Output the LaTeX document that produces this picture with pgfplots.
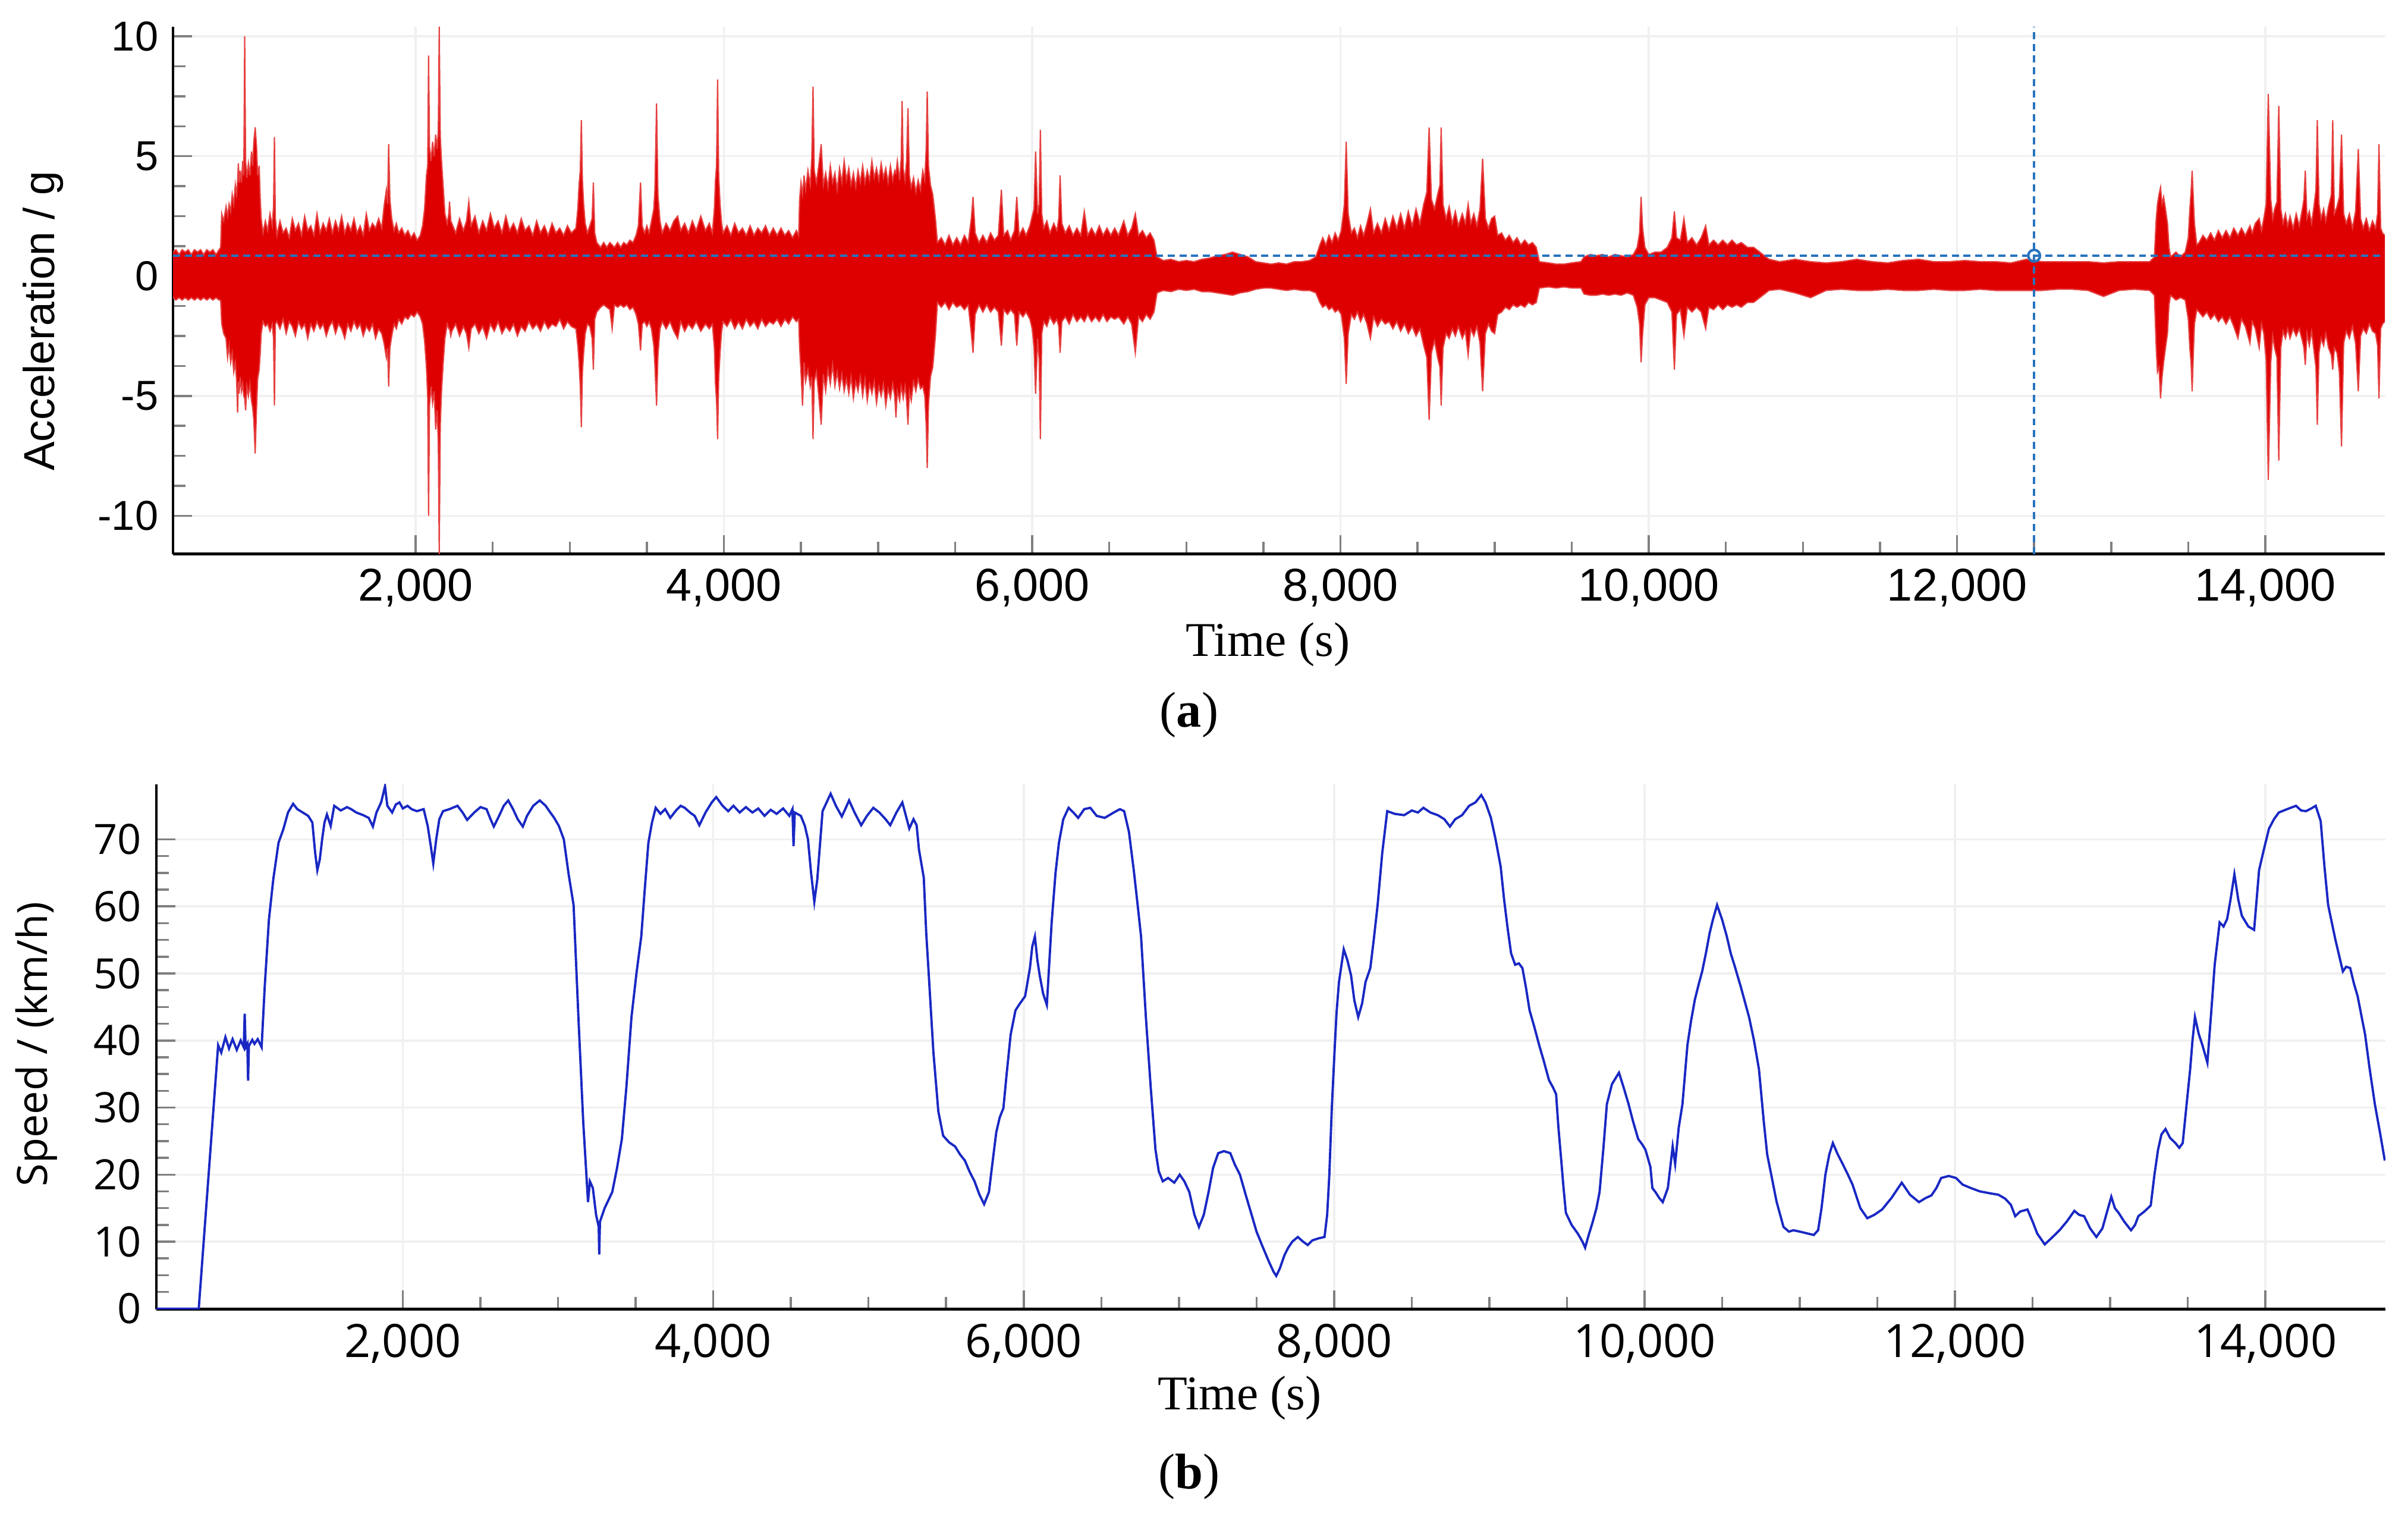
\documentclass[border=0pt]{standalone}
\usepackage{pgfplots}
\pgfplotsset{compat=1.18}
\usepackage{pgfplotstable}
\usepgfplotslibrary{fillbetween}
\usepackage{fontspec}
\setmainfont{Liberation Serif}
\setsansfont{Liberation Sans}
\newfontfamily\segoe{Open Sans}

\definecolor{accred}{RGB}{222,0,0}
\definecolor{spdblue}{RGB}{25,40,195}
\definecolor{cursor}{RGB}{40,115,190}

% acceleration envelope (upper / lower)
\pgfplotstableread{
t up lo
426 1.0 -0.9
445 1.1 -1.0
465 0.9 -0.9
485 1.1 -1.0
505 1.0 -0.9
525 1.1 -1.0
545 0.9 -0.9
565 1.1 -1.0
585 1.0 -0.9
605 1.1 -1.0
625 0.9 -0.9
645 1.1 -1.0
665 1.0 -0.9
685 1.1 -1.0
705 0.9 -0.9
725 1.1 -1.0
735 1.2 -1.0
742 2.6 -2.0
755 2.3 -2.4
770 2.9 -2.6
780 2.5 -3.4
790 3.0 -2.9
800 2.7 -3.6
810 3.4 -3.2
820 3.0 -4.0
830 3.8 -3.6
838 3.4 -4.3
845 4.0 -5.7
850 4.7 -4.4
855 3.9 -4.9
862 4.4 -4.2
870 3.9 -4.8
878 4.8 -4.5
885 4.2 -5.0
891 10.0 -5.1
897 4.8 -5.6
905 4.1 -4.6
915 4.7 -5.0
925 4.2 -4.5
935 5.2 -5.2
943 4.6 -5.5
950 5.6 -6.0
959 6.2 -7.4
968 5.4 -5.5
975 4.2 -4.3
985 4.6 -3.9
992 3.2 -3.2
998 2.4 -2.4
1010 1.8 -1.9
1025 2.3 -2.1
1040 1.9 -2.0
1055 2.6 -2.3
1070 2.1 -2.0
1078 2.9 -2.6
1084 5.8 -5.4
1090 2.4 -2.0
1100 1.7 -1.9
1120 2.3 -2.2
1140 1.8 -1.8
1160 2.0 -2.4
1180 1.6 -1.9
1200 2.4 -2.1
1220 1.9 -2.5
1240 2.2 -1.9
1260 1.7 -2.2
1280 2.5 -2.0
1300 1.9 -2.6
1320 2.1 -2.0
1340 1.7 -2.3
1360 2.6 -1.9
1380 1.8 -2.2
1400 2.2 -2.0
1420 1.9 -2.5
1440 2.4 -2.1
1460 1.8 -1.9
1480 2.3 -2.4
1500 1.9 -2.0
1520 2.5 -2.2
1540 1.8 -2.6
1560 2.2 -2.0
1580 1.9 -2.3
1600 2.4 -1.9
1620 1.8 -2.2
1640 2.1 -2.0
1660 1.7 -2.5
1680 2.6 -2.1
1700 1.9 -2.3
1720 2.2 -2.0
1740 2.0 -2.6
1760 2.4 -2.2
1780 2.0 -2.4
1795 2.9 -2.8
1810 3.6 -3.4
1818 3.0 -3.0
1825 5.5 -4.6
1833 3.2 -3.0
1845 2.4 -2.5
1860 1.9 -2.0
1875 2.2 -2.2
1890 1.8 -1.8
1910 2.0 -2.0
1930 1.7 -1.7
1950 1.9 -1.8
1970 1.6 -1.6
1990 1.8 -1.7
2010 1.5 -1.5
2030 1.7 -1.7
2045 2.1 -2.0
2058 2.8 -2.7
2070 4.2 -3.8
2078 4.6 -5.0
2084 9.2 -10.0
2090 5.4 -5.4
2100 4.8 -4.6
2110 5.6 -5.3
2120 5.0 -4.8
2130 5.9 -6.4
2140 5.3 -5.6
2147 6.1 -7.0
2153 10.4 -11.6
2160 5.8 -6.2
2168 4.8 -4.8
2178 3.8 -3.7
2190 2.6 -2.6
2205 2.2 -2.0
2215 2.6 -2.2
2220 3.1 -2.2
2228 2.3 -2.5
2235 2.2 -2.3
2260 1.8 -2.0
2285 2.4 -2.5
2310 1.9 -2.1
2330 2.3 -2.4
2345 3.1 -3.0
2360 2.1 -2.2
2385 2.5 -2.0
2410 1.8 -2.4
2435 2.3 -2.1
2460 1.9 -2.6
2485 2.6 -2.0
2510 2.0 -2.3
2535 2.3 -1.9
2560 1.8 -2.4
2585 2.5 -2.1
2610 1.9 -2.3
2635 2.2 -2.0
2660 1.8 -2.5
2685 2.4 -2.1
2710 1.9 -2.3
2735 2.1 -1.9
2760 1.7 -2.2
2785 2.3 -2.0
2810 1.8 -2.3
2835 2.1 -1.9
2860 1.7 -2.2
2885 2.2 -2.0
2910 1.8 -2.1
2935 2.0 -1.8
2960 1.7 -2.2
2985 2.1 -1.9
3010 1.8 -2.1
3040 2.0 -2.2
3052 2.8 -2.9
3060 3.8 -3.6
3068 4.4 -4.6
3075 6.5 -6.3
3082 4.0 -4.0
3090 3.0 -3.2
3100 2.2 -2.4
3115 1.8 -2.0
3130 2.1 -2.1
3145 2.4 -2.6
3153 3.9 -3.9
3162 1.8 -1.8
3175 1.4 -1.5
3200 1.2 -1.3
3220 1.4 -1.2
3240 1.2 -1.3
3260 1.4 -1.4
3275 1.3 -2.2
3290 1.2 -1.2
3310 1.4 -1.3
3330 1.2 -1.2
3350 1.4 -1.3
3370 1.3 -1.2
3390 1.5 -1.4
3410 1.4 -1.3
3430 1.7 -1.6
3445 2.1 -2.0
3459 3.9 -3.1
3470 2.1 -2.0
3485 1.8 -1.9
3500 2.1 -2.1
3515 1.8 -1.9
3530 2.3 -2.2
3545 2.8 -2.9
3552 3.6 -3.7
3563 7.2 -5.4
3572 3.4 -3.3
3585 2.3 -2.2
3600 1.8 -1.9
3625 2.2 -2.2
3650 1.9 -1.9
3675 2.3 -2.3
3700 2.5 -2.6
3720 1.9 -1.9
3745 2.2 -2.3
3770 1.8 -2.0
3795 2.3 -2.2
3820 1.9 -1.9
3850 2.5 -2.3
3880 1.9 -2.0
3905 2.2 -2.2
3925 1.8 -2.0
3938 2.8 -3.0
3945 4.0 -4.5
3952 4.6 -5.2
3959 8.2 -6.8
3966 4.2 -4.3
3975 3.0 -3.2
3985 2.2 -2.3
3995 1.8 -1.9
4020 2.1 -2.1
4045 1.7 -1.8
4070 2.2 -2.2
4095 1.8 -1.9
4120 2.0 -2.2
4145 1.7 -1.8
4170 2.1 -2.1
4195 1.7 -1.9
4220 2.0 -2.2
4245 1.8 -1.8
4270 2.1 -2.1
4295 1.7 -1.9
4320 2.0 -2.0
4345 1.7 -1.8
4370 2.0 -2.1
4395 1.7 -1.8
4420 1.9 -2.0
4445 1.6 -1.7
4470 1.9 -1.9
4485 1.7 -1.8
4491 3.2 -3.0
4500 3.9 -4.0
4510 3.4 -5.4
4520 4.2 -3.6
4530 3.6 -4.4
4545 4.4 -3.9
4560 3.8 -4.6
4570 4.9 -4.2
4578 7.9 -6.8
4586 4.4 -4.4
4600 3.9 -4.0
4615 4.6 -5.0
4631 5.5 -6.2
4645 3.8 -4.1
4660 4.3 -4.8
4675 3.7 -3.9
4690 4.6 -4.5
4705 3.9 -3.7
4720 4.3 -4.6
4735 3.6 -4.0
4750 4.5 -4.7
4765 3.9 -4.1
4780 4.8 -4.8
4795 4.0 -4.3
4810 4.5 -4.9
4825 3.8 -4.2
4840 4.3 -5.1
4855 3.7 -4.4
4870 4.4 -4.8
4885 3.9 -4.2
4900 4.6 -5.0
4915 3.9 -4.3
4930 4.4 -5.2
4945 4.0 -4.5
4960 4.8 -4.9
4975 4.1 -4.4
4990 4.5 -5.3
5005 4.0 -4.6
5020 4.7 -5.0
5035 4.1 -4.5
5050 4.5 -5.4
5065 3.9 -4.7
5080 4.6 -5.1
5095 4.0 -4.5
5108 4.4 -5.0
5116 4.3 -5.9
5125 4.8 -4.8
5140 4.0 -5.2
5150 4.9 -4.6
5156 7.3 -4.8
5163 4.5 -5.1
5175 4.0 -4.6
5185 4.8 -5.2
5194 7.0 -6.2
5203 4.2 -4.8
5215 3.7 -5.2
5230 4.1 -4.4
5245 3.5 -4.8
5260 4.0 -4.3
5275 3.6 -4.7
5290 4.4 -4.6
5303 4.0 -5.0
5312 5.3 -6.2
5319 7.7 -8.0
5327 4.6 -5.4
5340 3.8 -4.2
5355 3.4 -3.8
5372 2.4 -2.5
5385 1.4 -1.1
5410 1.6 -1.3
5435 1.3 -1.1
5460 1.7 -1.4
5485 1.3 -1.1
5510 1.6 -1.3
5535 1.3 -1.2
5560 1.7 -1.4
5585 1.4 -1.2
5605 2.4 -2.4
5616 3.3 -3.2
5630 1.8 -1.6
5655 1.4 -1.2
5680 1.7 -1.5
5705 1.4 -1.2
5730 1.8 -1.5
5755 1.5 -1.3
5780 1.7 -1.5
5800 3.6 -2.9
5815 1.7 -1.4
5840 1.9 -1.6
5860 1.5 -1.4
5885 1.9 -1.6
5900 3.3 -2.9
5915 1.7 -1.5
5940 2.0 -1.7
5960 1.7 -1.5
5985 2.1 -1.8
6000 2.5 -2.2
6012 2.8 -3.0
6022 5.2 -4.9
6035 2.6 -2.6
6045 3.0 -3.5
6053 6.1 -6.8
6062 2.6 -2.4
6075 2.0 -1.9
6095 2.3 -2.1
6115 1.8 -1.7
6140 2.2 -2.0
6160 1.9 -1.8
6172 2.4 -2.1
6181 4.2 -3.2
6192 2.2 -1.9
6215 1.8 -1.7
6240 2.1 -2.0
6265 1.7 -1.6
6290 2.0 -1.9
6315 1.7 -1.7
6338 2.7 -1.9
6360 1.7 -1.6
6385 2.0 -1.9
6410 1.7 -1.7
6435 2.1 -1.9
6460 1.7 -1.6
6485 2.0 -1.9
6510 1.7 -1.7
6535 2.0 -1.8
6560 1.7 -1.7
6594 2.3 -2.0
6620 1.7 -1.7
6645 2.0 -2.0
6669 2.6 -3.2
6690 1.7 -1.7
6715 1.9 -1.9
6740 1.6 -1.6
6765 1.8 -1.8
6790 1.5 -1.5
6810 0.8 -0.7
6850 0.65 -0.6
6900 0.7 -0.65
6950 0.6 -0.55
7000 0.65 -0.6
7050 0.6 -0.55
7100 0.7 -0.65
7150 0.75 -0.65
7200 0.85 -0.7
7250 0.9 -0.75
7300 1.0 -0.8
7350 0.9 -0.7
7400 0.8 -0.65
7450 0.6 -0.55
7500 0.55 -0.5
7550 0.5 -0.5
7600 0.55 -0.55
7650 0.5 -0.6
7700 0.6 -0.55
7750 0.6 -0.6
7800 0.65 -0.6
7840 0.8 -0.7
7866 1.3 -1.1
7885 1.6 -1.3
7905 1.3 -1.2
7925 1.7 -1.4
7945 1.4 -1.3
7965 1.8 -1.5
7985 1.5 -1.4
8005 1.9 -1.6
8025 3.0 -2.6
8037 5.6 -4.5
8050 2.6 -2.4
8070 1.8 -1.6
8090 2.0 -1.8
8110 1.6 -1.5
8130 2.1 -1.9
8150 1.7 -1.6
8172 2.2 -2.0
8194 2.8 -2.6
8215 1.8 -1.7
8240 2.2 -2.1
8265 1.8 -1.8
8290 2.4 -2.0
8315 1.9 -1.9
8340 2.5 -2.2
8365 2.0 -1.9
8390 2.6 -2.3
8415 2.0 -2.0
8440 2.7 -2.4
8465 2.1 -2.1
8490 2.8 -2.5
8515 2.2 -2.2
8540 3.0 -2.9
8560 3.5 -3.4
8575 6.2 -6.0
8590 3.2 -3.2
8610 2.8 -2.7
8630 3.4 -3.4
8645 3.8 -3.8
8653 6.2 -5.4
8665 3.0 -3.0
8685 2.4 -2.4
8705 2.9 -2.6
8725 2.2 -2.2
8745 2.7 -2.5
8765 2.1 -2.1
8790 2.6 -2.6
8810 2.2 -2.3
8828 3.0 -3.3
8845 2.2 -2.2
8865 2.6 -2.5
8885 2.1 -2.1
8905 2.8 -2.8
8922 4.9 -4.8
8940 2.4 -2.4
8960 2.0 -2.0
8980 2.4 -2.3
9000 2.5 -2.4
9020 1.7 -1.6
9045 1.8 -1.5
9070 1.5 -1.3
9095 1.7 -1.4
9120 1.4 -1.2
9145 1.6 -1.3
9170 1.3 -1.2
9195 1.5 -1.3
9220 1.3 -1.1
9245 1.4 -1.2
9270 1.2 -1.1
9290 0.6 -0.5
9350 0.55 -0.45
9400 0.5 -0.5
9450 0.5 -0.45
9500 0.55 -0.5
9560 0.6 -0.5
9580 0.8 -0.75
9620 0.9 -0.8
9660 0.85 -0.8
9700 0.9 -0.75
9740 0.8 -0.8
9780 0.9 -0.75
9820 0.85 -0.8
9860 0.8 -0.7
9900 0.9 -0.8
9925 1.2 -1.3
9940 1.8 -2.0
9950 3.3 -3.6
9960 2.0 -2.4
9975 1.2 -1.2
10000 0.9 -0.9
10040 1.0 -0.9
10080 1.0 -1.0
10120 1.2 -1.1
10150 1.6 -1.5
10166 2.7 -3.9
10180 1.6 -1.6
10205 1.5 -1.4
10228 2.4 -2.5
10250 1.4 -1.3
10280 1.6 -1.5
10310 1.3 -1.3
10340 1.6 -1.5
10369 2.1 -2.2
10390 1.3 -1.3
10420 1.5 -1.4
10450 1.3 -1.2
10480 1.5 -1.4
10510 1.3 -1.2
10540 1.5 -1.3
10570 1.3 -1.2
10600 1.4 -1.3
10640 1.2 -1.1
10680 1.2 -1.1
10720 1.0 -0.9
10760 0.8 -0.7
10780 0.7 -0.6
10850 0.6 -0.55
10950 0.7 -0.7
11050 0.6 -0.9
11150 0.55 -0.6
11250 0.6 -0.55
11350 0.7 -0.6
11450 0.6 -0.6
11550 0.55 -0.55
11650 0.65 -0.6
11750 0.7 -0.6
11850 0.6 -0.55
11950 0.6 -0.6
12050 0.65 -0.6
12150 0.6 -0.55
12250 0.6 -0.6
12350 0.55 -0.6
12450 0.7 -0.6
12550 0.6 -0.6
12650 0.6 -0.55
12750 0.6 -0.55
12850 0.6 -0.6
12950 0.55 -0.85
13050 0.6 -0.6
13150 0.6 -0.55
13250 0.6 -0.6
13280 0.8 -0.8
13292 2.4 -3.0
13300 3.0 -4.0
13310 3.4 -3.8
13320 3.7 -5.1
13330 3.0 -4.2
13340 3.3 -3.6
13352 2.8 -3.0
13365 2.2 -2.4
13375 1.2 -1.2
13385 0.8 -0.8
13420 1.0 -1.0
13450 0.8 -0.9
13480 1.0 -1.0
13500 1.6 -1.8
13510 2.8 -3.0
13518 3.5 -3.6
13525 4.4 -4.8
13533 3.2 -3.2
13540 2.2 -2.0
13555 1.3 -1.4
13570 1.4 -1.5
13595 1.7 -1.7
13620 1.5 -1.5
13645 1.8 -1.8
13670 1.5 -1.6
13695 1.9 -1.9
13720 1.6 -1.7
13745 1.9 -2.0
13770 1.6 -1.7
13795 2.0 -2.1
13822 1.7 -2.6
13845 2.0 -1.8
13870 1.7 -2.1
13900 2.1 -2.8
13915 1.8 -1.9
13935 2.2 -2.2
13960 2.4 -3.0
13975 1.9 -2.0
13990 2.4 -2.4
14005 3.0 -3.5
14019 7.6 -8.5
14035 3.2 -3.6
14048 2.4 -2.5
14060 2.8 -3.0
14075 3.1 -3.4
14087 7.1 -7.7
14100 2.8 -3.0
14115 2.2 -2.3
14130 2.6 -2.6
14145 2.1 -2.2
14160 2.5 -2.6
14180 2.0 -2.2
14200 2.6 -2.5
14220 2.1 -2.2
14240 2.8 -2.7
14250 3.2 -3.0
14259 4.4 -3.7
14270 2.4 -2.4
14285 2.7 -2.9
14300 2.2 -2.3
14315 2.9 -3.1
14328 3.6 -3.8
14337 6.5 -6.2
14348 3.0 -3.2
14362 2.4 -2.6
14378 2.8 -2.9
14392 2.3 -2.4
14410 2.9 -3.0
14428 3.4 -3.3
14437 6.5 -3.9
14448 2.6 -3.0
14465 2.9 -3.2
14480 3.3 -4.0
14494 5.9 -7.1
14508 2.6 -2.8
14525 2.2 -2.3
14545 2.6 -2.6
14565 2.0 -2.1
14585 2.7 -2.8
14603 5.3 -4.8
14618 2.4 -2.5
14635 2.0 -2.2
14655 2.4 -2.4
14675 1.9 -2.0
14695 2.3 -2.3
14715 2.0 -2.4
14728 2.6 -2.9
14737 5.5 -5.1
14748 2.0 -2.2
14760 1.8 -2.0
14775 1.7 -1.9
}\acctable

% vehicle speed, km/h
\pgfplotstableread{
t v
412 0
685 0
810 39.3
830 38.2
857 40.5
880 38.8
903 40.2
930 38.6
955 40.0
975 39.0
981 44.0
987 39.0
998 39.5
1003 34.0
1008 39.2
1030 40.1
1044 39.5
1065 40.2
1090 39.0
1110 48
1137 58
1165 64
1199 69.5
1230 71.5
1260 74
1293 75.3
1320 74.5
1355 74.0
1390 73.5
1417 72.5
1435 68
1449 65.4
1465 67
1480 70
1495 72.5
1511 73.7
1535 72
1558 75
1600 74.3
1640 74.8
1667 74.5
1700 74.0
1745 73.6
1780 73.2
1807 71.9
1830 74
1860 75.5
1885 77.9
1900 75
1931 74
1955 75.2
1978 75.5
2000 74.6
2030 75
2056 74.5
2090 74.2
2134 74.5
2160 72
2180 69
2196 66.4
2215 70
2235 73
2259 74.2
2300 74.5
2352 75
2385 74
2414 72.9
2460 74
2500 74.8
2539 74.5
2565 73
2586 71.9
2620 73.5
2650 75
2679 75.8
2710 74.5
2740 73
2773 71.9
2800 73.5
2840 75
2882 75.8
2920 75
2950 74
2975 73.2
3005 72
3037 70
3068 64.8
3100 60.2
3131 43.5
3162 27.9
3193 15.9
3205 19
3224 18
3245 14
3262 12.2
3265 8.1
3270 13
3300 15
3349 17.4
3380 21
3411 25.3
3440 33
3473 43.5
3505 50
3536 55.5
3560 63
3582 69.5
3605 72.5
3629 74.7
3660 73.8
3690 74.5
3723 73.2
3760 74.3
3790 75
3816 74.7
3850 74
3880 73.5
3910 72.1
3950 74
3990 75.5
4019 76.3
4060 75
4096 74.2
4130 75
4170 74
4210 74.8
4252 74
4290 74.6
4330 73.5
4370 74.4
4408 73.8
4450 74.6
4490 73.5
4510 74.5
4517 69
4525 74
4564 73.5
4590 72
4610 70
4630 65
4651 60.7
4670 64
4690 70
4704 74.2
4730 75.5
4756 76.8
4790 75
4828 73.4
4850 74.5
4875 75.8
4910 74
4953 72.1
4990 73.5
5031 74.7
5070 74
5110 73
5140 72.1
5180 74
5218 75.5
5263 71.6
5290 73
5310 72.1
5325 68.5
5356 64.3
5372 56
5387 50.3
5418 38.3
5450 29.4
5481 25.8
5520 24.8
5558 24.2
5590 23
5621 22.1
5650 20.5
5683 19
5715 17
5745 15.6
5776 17.4
5800 22
5823 26.3
5845 28.5
5869 29.9
5890 35
5916 40.9
5947 44.5
5975 45.5
6009 46.6
6040 50.8
6055 54
6072 55.5
6088 52
6103 49.7
6125 47
6149 45.3
6180 57.6
6205 65
6227 69.5
6255 73
6289 74.7
6320 74
6351 73.2
6390 74.5
6429 74.7
6470 73.5
6522 73.2
6580 74
6620 74.5
6647 74.2
6678 71.1
6709 65.4
6735 60
6756 55.5
6787 43.5
6818 33.1
6849 23.7
6870 20.5
6896 19
6930 19.5
6970 18.8
7005 20
7035 19
7067 17.4
7100 14
7129 12.2
7160 14
7191 17.4
7220 21
7253 23.2
7290 23.5
7331 23.2
7360 21.5
7393 20
7430 17
7471 13.8
7500 11.5
7533 9.6
7580 7
7610 5.5
7627 4.9
7650 6
7680 8
7704 9.1
7730 10
7766 10.7
7800 10
7830 9.5
7860 10.2
7900 10.5
7938 10.7
7955 14
7969 20
7985 30
8000 37.2
8015 44
8031 48.7
8062 53.6
8085 52
8109 49.7
8130 46
8155 43.5
8180 45.5
8202 48.7
8233 50.8
8255 55
8280 60.2
8310 68
8342 74.2
8390 73.8
8451 73.6
8500 74.3
8540 74
8575 74.7
8620 74
8668 73.6
8710 73
8746 71.9
8780 73
8824 73.6
8870 75
8910 75.5
8948 76.6
8975 75.5
9010 73.2
9040 70
9073 65.9
9095 61
9119 56.5
9140 53
9166 51.3
9190 51.5
9213 50.8
9235 48
9259 44.5
9290 42
9321 39.3
9350 37
9384 34.1
9410 33
9430 32
9445 27
9461 22.7
9478 18
9493 14.3
9530 12.5
9570 11.2
9600 10
9617 9.1
9640 11
9664 12.8
9690 15
9710 17.4
9735 24
9757 30.5
9790 33.5
9835 35.2
9865 33
9897 30.5
9925 28
9959 25.3
9985 24.5
10006 23.7
10038 21.1
10050 18
10070 17.4
10095 16.5
10117 15.9
10150 18
10181 24.2
10197 21.6
10220 27
10244 30.5
10276 39.3
10300 43
10324 46.1
10350 48.5
10371 50.3
10395 53
10419 56
10440 58
10467 60.2
10500 58
10530 55.5
10555 53
10578 51.3
10620 48
10673 43.5
10705 40
10737 35.7
10768 27.9
10790 23
10816 20
10850 16
10895 12.2
10930 11.5
10959 11.7
11000 11.5
11054 11.2
11090 11
11118 11.7
11140 15
11165 20
11190 23
11213 24.7
11245 23
11276 21.6
11310 20
11340 18.5
11390 15
11435 13.5
11480 14
11530 14.8
11590 16.5
11657 18.8
11710 17
11768 15.9
11810 16.5
11848 16.9
11880 18
11911 19.5
11960 19.8
12006 19.5
12050 18.5
12102 18
12160 17.5
12229 17.2
12280 17
12324 16.4
12360 15.5
12388 13.8
12420 14.5
12467 14.8
12500 13
12530 11.2
12578 9.6
12620 10.5
12673 11.7
12720 13
12769 14.6
12800 14
12832 13.8
12870 12
12911 10.7
12950 12
12980 14.5
13007 16.7
13030 15
13054 14.3
13090 13
13134 11.7
13160 12.5
13181 13.8
13220 14.5
13261 15.4
13285 20
13308 23.7
13330 26
13356 26.8
13385 25.5
13420 24.7
13445 24
13467 24.7
13490 30
13515 35.7
13530 40
13546 43.5
13570 41
13594 39.3
13626 36.7
13650 44
13673 51.3
13705 57.6
13730 57
13753 58.1
13775 61
13800 64.8
13825 61
13848 58.6
13890 57
13927 56.5
13959 65.4
13990 68.5
14023 71.6
14055 73
14086 74
14140 74.5
14197 75
14230 74.3
14261 74.2
14295 74.6
14324 75
14356 72.7
14380 66
14404 60.2
14451 55
14499 50.3
14520 51
14546 50.8
14570 48.5
14594 46.6
14620 43.5
14642 40.9
14670 36
14705 30.5
14740 26
14769 22.1
}\speedtable

\pgfplotsset{
  panel/.style={
    scale only axis,
    anchor=south west,
    axis lines*=left,
    axis line style={-, line width=0.7pt, black},
    tick align=inside,
    major tick length=4.6pt,
    minor tick length=3pt,
    tick style={gray, line width=0.5pt},
    grid=major,
    major grid style={gray!12, line width=0.5pt},
    scaled x ticks=false,
    xtick={2000,4000,6000,8000,10000,12000,14000},
    xticklabels={{2,000},{4,000},{6,000},{8,000},{10,000},{12,000},{14,000}},
    minor x tick num=3,
    minor y tick num=3,
    /pgf/number format/assume math mode=true,
    xlabel={Time (s)},
  },
}

\begin{document}
\begin{tikzpicture}
% page frame, 4050 x 2545 px at 0.005 cm per px
\path (0,0) rectangle (20.25cm,12.725cm);

% (a) acceleration
\begin{axis}[
    panel,
    at={(1.455cm,8.065cm)},
    width=18.6cm, height=4.435cm,
    xmin=426, xmax=14775,
    ymin=-11.6, ymax=10.4,
    ytick={-10,-5,0,5,10},
    yticklabels={-10,-5,0,5,10},
    xticklabel style={font=\sffamily\fontsize{11}{13}\selectfont},
    yticklabel style={font=\sffamily\fontsize{10}{12}\selectfont},
    ylabel={Acceleration / g},
    ylabel style={at={(axis description cs:-0.0587,0.442)}, anchor=center,
        font=\sffamily\fontsize{10.4}{12}\selectfont},
    xlabel style={at={(axis description cs:0.495,-0.193)}, anchor=base,
        font=\rmfamily\fontsize{11.6}{13}\selectfont},
]
\addplot[name path=up, draw=none] table[x=t, y=up] {\acctable};
\addplot[name path=lo, draw=none] table[x=t, y=lo] {\acctable};
\addplot[accred] fill between[of=up and lo];
\addplot[accred!75, line width=0.3pt] table[x=t, y=up] {\acctable};
\addplot[accred!75, line width=0.3pt] table[x=t, y=lo] {\acctable};

% cursor lines
\addplot[cursor, line width=0.5pt, dash pattern=on 1.7pt off 1.1pt]
    coordinates {(426,0.85) (14775,0.85)};
\addplot[cursor, line width=0.5pt, dash pattern=on 1.7pt off 1.1pt]
    coordinates {(12500,-11.6) (12500,10.4)};
\addplot[cursor, only marks, mark=o, mark size=1.4pt, line width=0.6pt]
    coordinates {(12500,0.85)};
\end{axis}

\node[anchor=base, font=\rmfamily\fontsize{12}{14}\selectfont]
    at (10.0cm,6.61cm) {(\textbf{a})};

% (b) speed
\begin{axis}[
    panel,
    at={(1.315cm,1.715cm)},
    width=18.745cm, height=4.415cm,
    xmin=412, xmax=14773,
    ymin=-0.1, ymax=78.2,
    ytick={0,10,20,30,40,50,60,70},
    yticklabels={0,10,20,30,40,50,60,70},
    xticklabel style={font=\segoe\fontsize{11}{13}\selectfont},
    yticklabel style={font=\segoe\fontsize{10}{12}\selectfont},
    ylabel={Speed / (km/h)},
    ylabel style={at={(axis description cs:-0.0539,0.505)}, anchor=center,
        font=\segoe\fontsize{10}{12}\selectfont},
    xlabel style={at={(axis description cs:0.486,-0.191)}, anchor=base,
        font=\rmfamily\fontsize{11.6}{13}\selectfont},
]
\addplot[spdblue, line width=0.55pt] table[x=t, y=v] {\speedtable};
\end{axis}

\node[anchor=base, font=\rmfamily\fontsize{12}{14}\selectfont]
    at (10.0cm,0.205cm) {(\textbf{b})};
\end{tikzpicture}
\end{document}
